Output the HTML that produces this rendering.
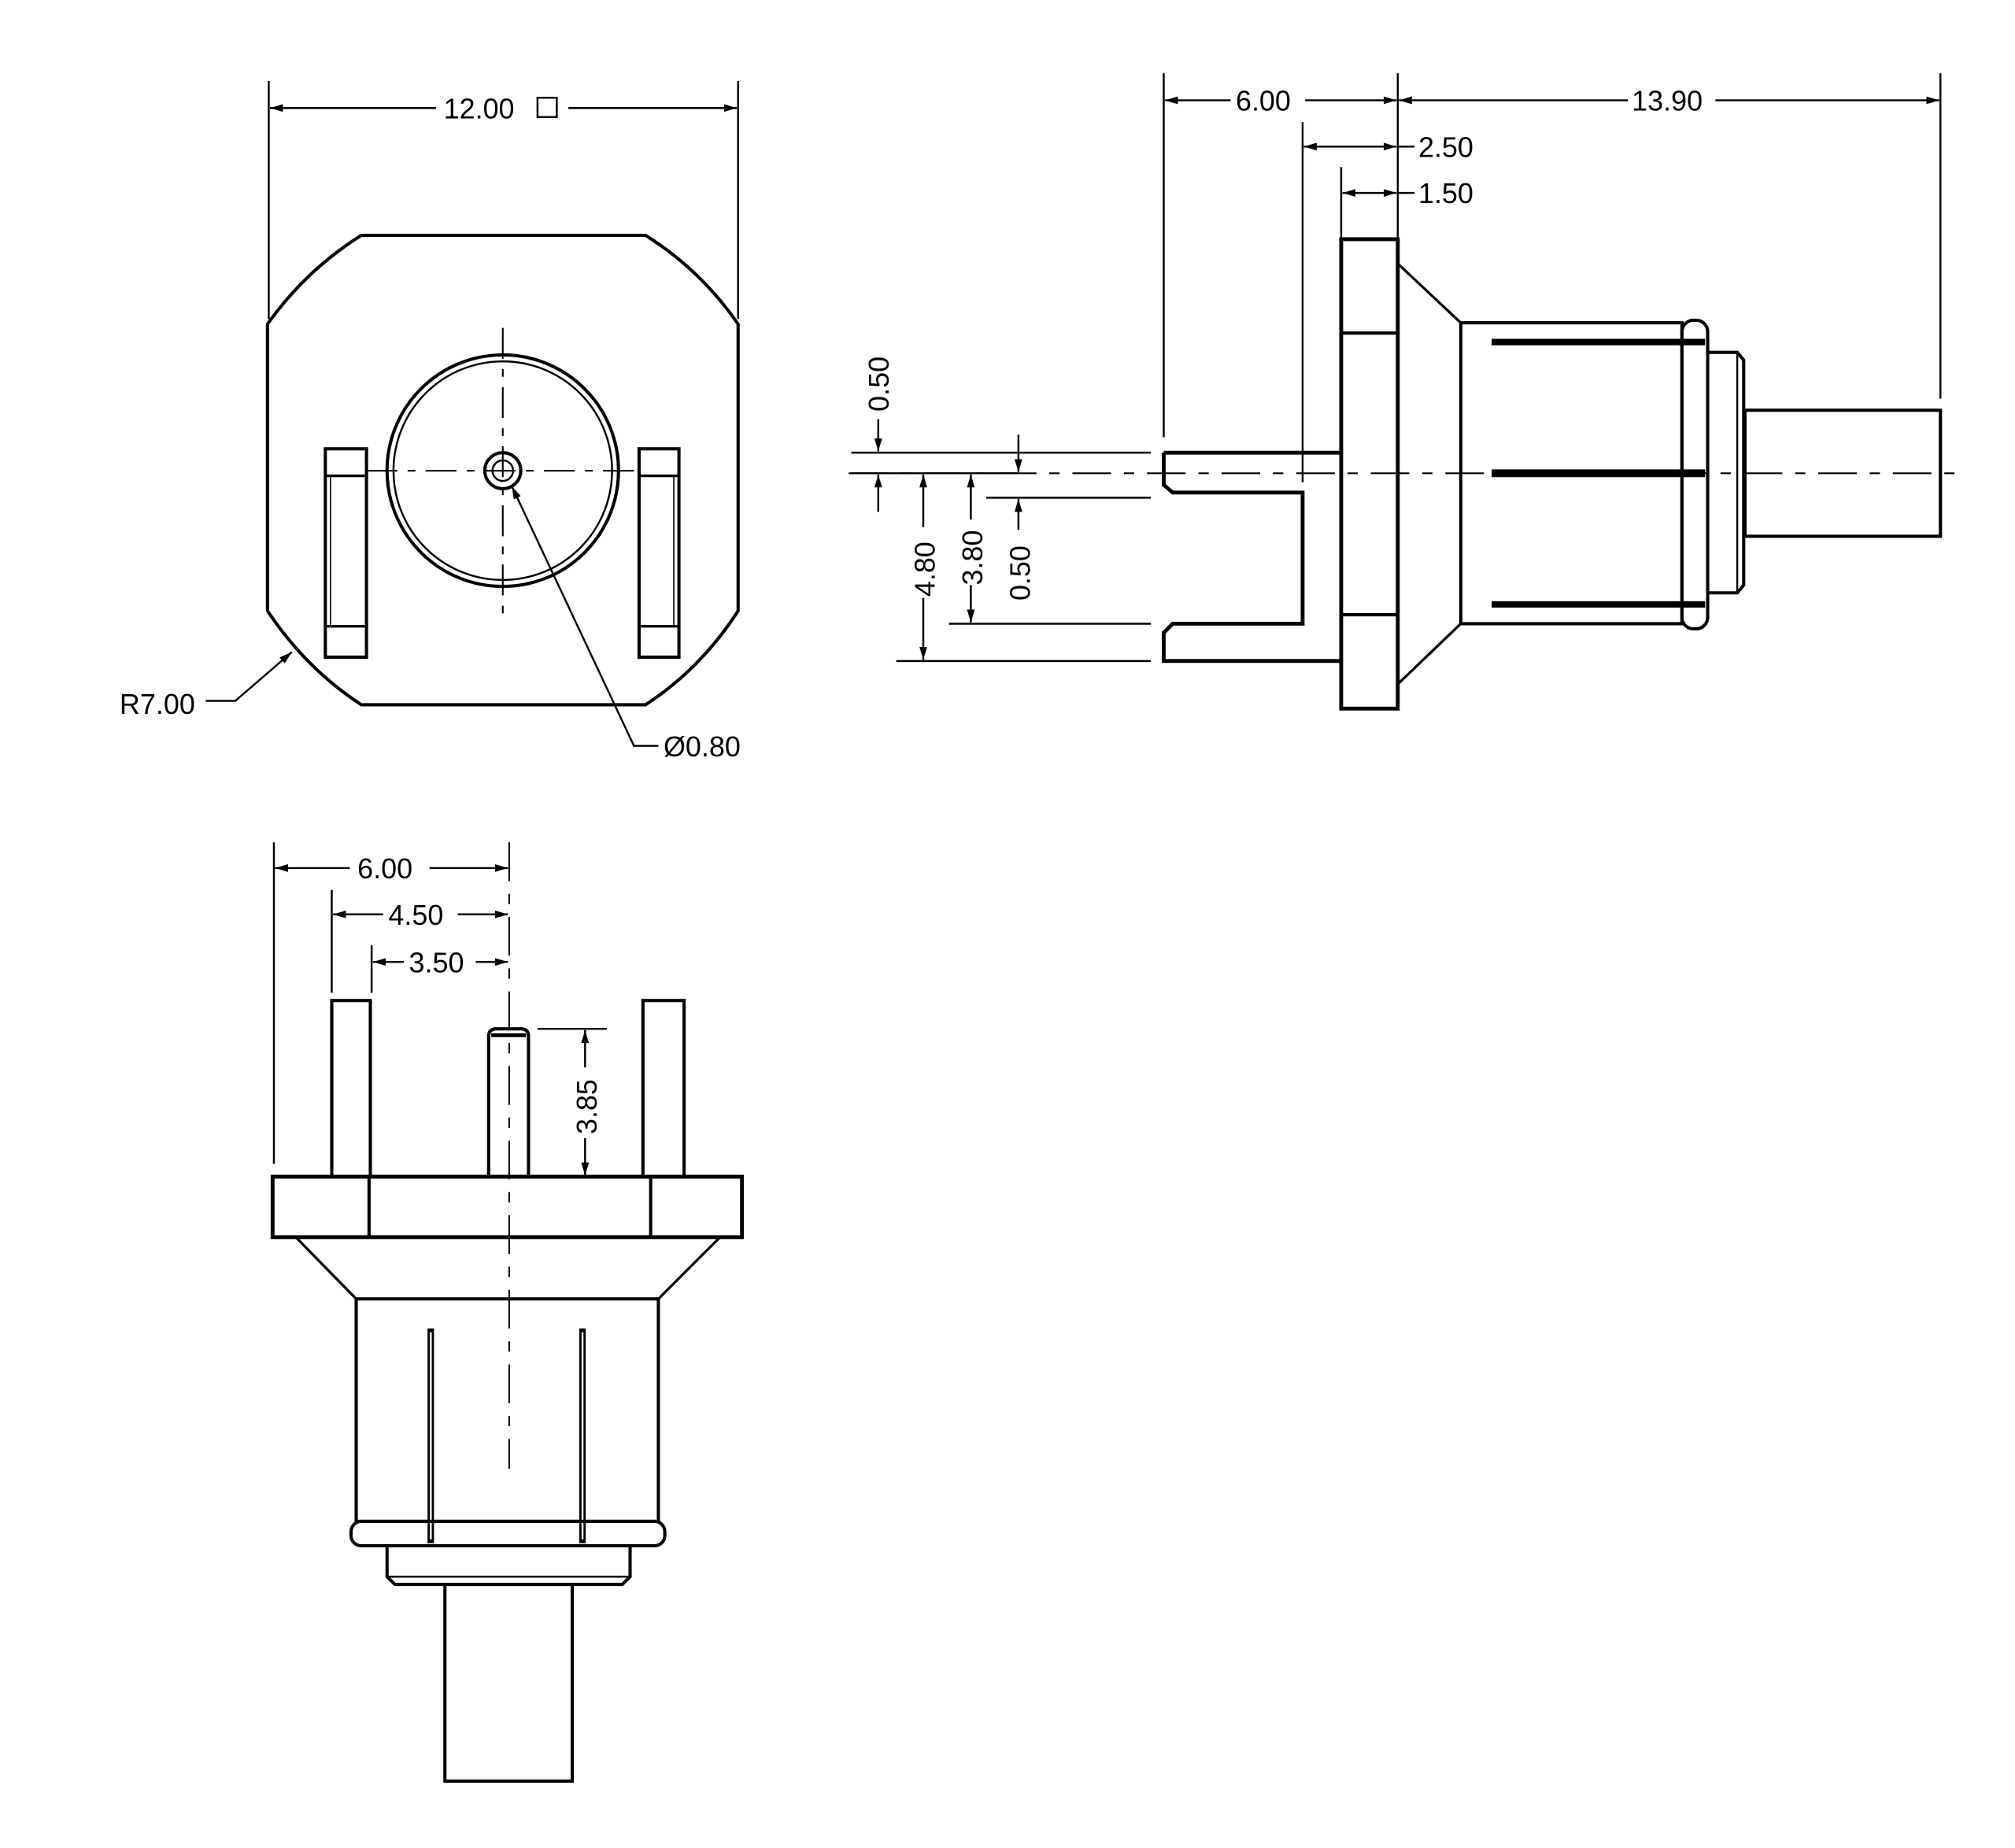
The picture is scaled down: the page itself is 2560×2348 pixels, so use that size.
<!DOCTYPE html>
<html><head><style>html,body{margin:0;padding:0;background:#fff}svg{display:block}</style></head>
<body>
<svg width="2560" height="2348" viewBox="0 0 1567 1437" preserveAspectRatio="none" xmlns="http://www.w3.org/2000/svg" font-family="Liberation Sans, DejaVu Sans, sans-serif" font-size="22">
<defs>
<marker id="a" viewBox="0 0 10 6" refX="10" refY="3" markerWidth="10" markerHeight="6" markerUnits="userSpaceOnUse" orient="auto-start-reverse"><path d="M0,0 L10,3 L0,6 Z" fill="#000"/></marker>
</defs>
<g fill="none" stroke="#000">
<path d="M281,183 L502,183 Q545,210 574,252 L574,475 Q545,520 502,548 L281,548 Q238,520 208,475 L208,252 Q238,210 281,183 Z" stroke-width="2.5"/>
<circle cx="391" cy="366" r="90" stroke-width="2.5"/>
<circle cx="391" cy="366" r="85" stroke-width="1.5"/>
<circle cx="391" cy="366" r="14" stroke-width="2.5"/>
<circle cx="391" cy="366" r="8" stroke-width="1.5"/>
<line x1="391" y1="255" x2="391" y2="478" stroke-width="1.3" stroke-dasharray="24,8,6,8"/>
<line x1="285" y1="366" x2="500" y2="366" stroke-width="1.3" stroke-dasharray="24,8,6,8"/>
<rect x="253" y="349" width="32" height="162" stroke-width="2.5"/>
<line x1="253" y1="370" x2="285" y2="370" stroke-width="2"/>
<line x1="253" y1="487" x2="285" y2="487" stroke-width="2"/>
<line x1="257" y1="370" x2="257" y2="487" stroke-width="1"/>
<rect x="497" y="349" width="31" height="162" stroke-width="2.5"/>
<line x1="497" y1="370" x2="528" y2="370" stroke-width="2"/>
<line x1="497" y1="487" x2="528" y2="487" stroke-width="2"/>
<line x1="524" y1="370" x2="524" y2="487" stroke-width="1"/>
<line x1="209" y1="63" x2="209" y2="248" stroke-width="1.5"/>
<line x1="574" y1="63" x2="574" y2="248" stroke-width="1.5"/>
<line x1="339" y1="84" x2="210" y2="84" stroke-width="1.5" marker-end="url(#a)"/>
<line x1="442" y1="84" x2="573" y2="84" stroke-width="1.5" marker-end="url(#a)"/>
<rect x="418" y="76" width="15" height="15" stroke-width="1.5"/>
<polyline points="160,545 183,545 227,507" stroke-width="1.5" marker-end="url(#a)"/>
<polyline points="512,580 493,580 398,378" stroke-width="1.5" marker-end="url(#a)"/>

<rect x="1043" y="186" width="44" height="365" stroke-width="3"/>
<line x1="1043" y1="259" x2="1087" y2="259" stroke-width="2.5"/>
<line x1="1043" y1="478" x2="1087" y2="478" stroke-width="2.5"/>
<line x1="1087" y1="205" x2="1136" y2="251" stroke-width="2"/>
<line x1="1087" y1="532" x2="1136" y2="485" stroke-width="2"/>
<rect x="1136" y="251" width="172" height="234" stroke-width="2.5"/>
<line x1="1160" y1="266" x2="1326" y2="266" stroke-width="5"/>
<line x1="1160" y1="368" x2="1326" y2="368" stroke-width="6"/>
<line x1="1160" y1="470" x2="1326" y2="470" stroke-width="5"/>
<rect x="1308" y="249" width="20" height="240" rx="9" stroke-width="2.5"/>
<path d="M1328,274 L1351,274 L1356,280 L1356,455 L1351,461 L1328,461" stroke-width="2.5"/>
<line x1="1351" y1="274" x2="1351" y2="461" stroke-width="1.5"/>
<rect x="1357" y="319" width="152" height="98" stroke-width="2.5"/>
<path d="M905,352 L1043,352 M905,352 L905,377 L912,383 L1013,383 L1013,485 L912,485 L905,492 L905,514 L1043,514" stroke-width="3"/>
<line x1="660" y1="368" x2="1530" y2="368" stroke-width="1.3" stroke-dasharray="30,10,8,10"/>
<line x1="905" y1="57" x2="905" y2="340" stroke-width="1.5"/>
<line x1="1087" y1="57" x2="1087" y2="185" stroke-width="1.5"/>
<line x1="1509" y1="57" x2="1509" y2="310" stroke-width="1.5"/>
<line x1="957" y1="78" x2="906" y2="78" stroke-width="1.5" marker-end="url(#a)"/>
<line x1="1015" y1="78" x2="1086" y2="78" stroke-width="1.5" marker-end="url(#a)"/>
<line x1="1266" y1="78" x2="1088" y2="78" stroke-width="1.5" marker-end="url(#a)"/>
<line x1="1334" y1="78" x2="1508" y2="78" stroke-width="1.5" marker-end="url(#a)"/>
<line x1="1013" y1="95" x2="1013" y2="375" stroke-width="1.5"/>
<line x1="1043" y1="130" x2="1043" y2="185" stroke-width="1.5"/>
<line x1="1050" y1="114" x2="1014" y2="114" stroke-width="1.5" marker-end="url(#a)"/>
<line x1="1050" y1="114" x2="1086" y2="114" stroke-width="1.5" marker-end="url(#a)"/>
<line x1="1087" y1="114" x2="1100" y2="114" stroke-width="1.5"/>
<line x1="1065" y1="150" x2="1044" y2="150" stroke-width="1.5" marker-end="url(#a)"/>
<line x1="1065" y1="150" x2="1086" y2="150" stroke-width="1.5" marker-end="url(#a)"/>
<line x1="1087" y1="150" x2="1100" y2="150" stroke-width="1.5"/>
<line x1="662" y1="352" x2="895" y2="352" stroke-width="1.5"/>
<line x1="662" y1="368" x2="792" y2="368" stroke-width="1.5"/>
<line x1="767" y1="387" x2="895" y2="387" stroke-width="1.5"/>
<line x1="738" y1="485" x2="895" y2="485" stroke-width="1.5"/>
<line x1="697" y1="514" x2="895" y2="514" stroke-width="1.5"/>
<line x1="683" y1="326" x2="683" y2="351" stroke-width="1.5" marker-end="url(#a)"/>
<line x1="683" y1="398" x2="683" y2="369" stroke-width="1.5" marker-end="url(#a)"/>
<line x1="718" y1="410" x2="718" y2="369" stroke-width="1.5" marker-end="url(#a)"/>
<line x1="718" y1="465" x2="718" y2="513" stroke-width="1.5" marker-end="url(#a)"/>
<line x1="755" y1="404" x2="755" y2="369" stroke-width="1.5" marker-end="url(#a)"/>
<line x1="755" y1="455" x2="755" y2="484" stroke-width="1.5" marker-end="url(#a)"/>
<line x1="792" y1="338" x2="792" y2="367" stroke-width="1.5" marker-end="url(#a)"/>
<line x1="792" y1="412" x2="792" y2="388" stroke-width="1.5" marker-end="url(#a)"/>

<rect x="212" y="915" width="365" height="47" stroke-width="3"/>
<line x1="287" y1="915" x2="287" y2="962" stroke-width="2.5"/>
<line x1="506" y1="915" x2="506" y2="962" stroke-width="2.5"/>
<line x1="230" y1="962" x2="277" y2="1010" stroke-width="2"/>
<line x1="560" y1="962" x2="512" y2="1010" stroke-width="2"/>
<rect x="277" y="1010" width="235" height="173" stroke-width="2.5"/>
<line x1="335" y1="1033" x2="335" y2="1200" stroke-width="5"/>
<line x1="453" y1="1033" x2="453" y2="1200" stroke-width="5"/>
<line x1="335" y1="1036" x2="335" y2="1197" stroke="#fff" stroke-width="1.5"/>
<line x1="453" y1="1036" x2="453" y2="1197" stroke="#fff" stroke-width="1.5"/>
<rect x="273" y="1183" width="244" height="19" rx="8" stroke-width="2.5"/>
<path d="M301,1202 L301,1226 L307,1232 L484,1232 L490,1226 L490,1202" stroke-width="2.5"/>
<line x1="301" y1="1226" x2="490" y2="1226" stroke-width="1.5"/>
<rect x="346" y="1232" width="99" height="153" stroke-width="2.5"/>
<rect x="258" y="778" width="30" height="137" stroke-width="2.5"/>
<rect x="500" y="778" width="32" height="137" stroke-width="2.5"/>
<path d="M380,915 L380,806 Q380,800 386,800 L405,800 Q411,800 411,806 L411,915" stroke-width="2.5"/>
<line x1="382" y1="805" x2="409" y2="805" stroke-width="3"/>
<line x1="396" y1="655" x2="396" y2="1142" stroke-width="1.3" stroke-dasharray="30,10,8,10"/>
<line x1="213" y1="655" x2="213" y2="905" stroke-width="1.5"/>
<line x1="258" y1="692" x2="258" y2="772" stroke-width="1.5"/>
<line x1="289" y1="735" x2="289" y2="772" stroke-width="1.5"/>
<line x1="272" y1="675" x2="214" y2="675" stroke-width="1.5" marker-end="url(#a)"/>
<line x1="334" y1="675" x2="395" y2="675" stroke-width="1.5" marker-end="url(#a)"/>
<line x1="298" y1="711" x2="259" y2="711" stroke-width="1.5" marker-end="url(#a)"/>
<line x1="356" y1="711" x2="395" y2="711" stroke-width="1.5" marker-end="url(#a)"/>
<line x1="314" y1="748" x2="290" y2="748" stroke-width="1.5" marker-end="url(#a)"/>
<line x1="370" y1="748" x2="395" y2="748" stroke-width="1.5" marker-end="url(#a)"/>
<line x1="418" y1="800" x2="472" y2="800" stroke-width="1.5"/>
<line x1="455" y1="830" x2="455" y2="801" stroke-width="1.5" marker-end="url(#a)"/>
<line x1="455" y1="885" x2="455" y2="914" stroke-width="1.5" marker-end="url(#a)"/>
</g>
<g fill="#000">
<text x="345" y="92">12.00</text>
<text x="93" y="555">R7.00</text>
<text x="516" y="588">Ø0.80</text>
<text x="961" y="86">6.00</text>
<text x="1269" y="86">13.90</text>
<text x="1103" y="122">2.50</text>
<text x="1103" y="158">1.50</text>
<text transform="translate(691,320) rotate(-90)">0.50</text>
<text transform="translate(727,464) rotate(-90)">4.80</text>
<text transform="translate(764,455) rotate(-90)">3.80</text>
<text transform="translate(801,467) rotate(-90)">0.50</text>
<text x="278" y="683">6.00</text>
<text x="302" y="719">4.50</text>
<text x="318" y="756">3.50</text>
<text transform="translate(464,882) rotate(-90)">3.85</text>
</g>
</svg>
</body></html>
